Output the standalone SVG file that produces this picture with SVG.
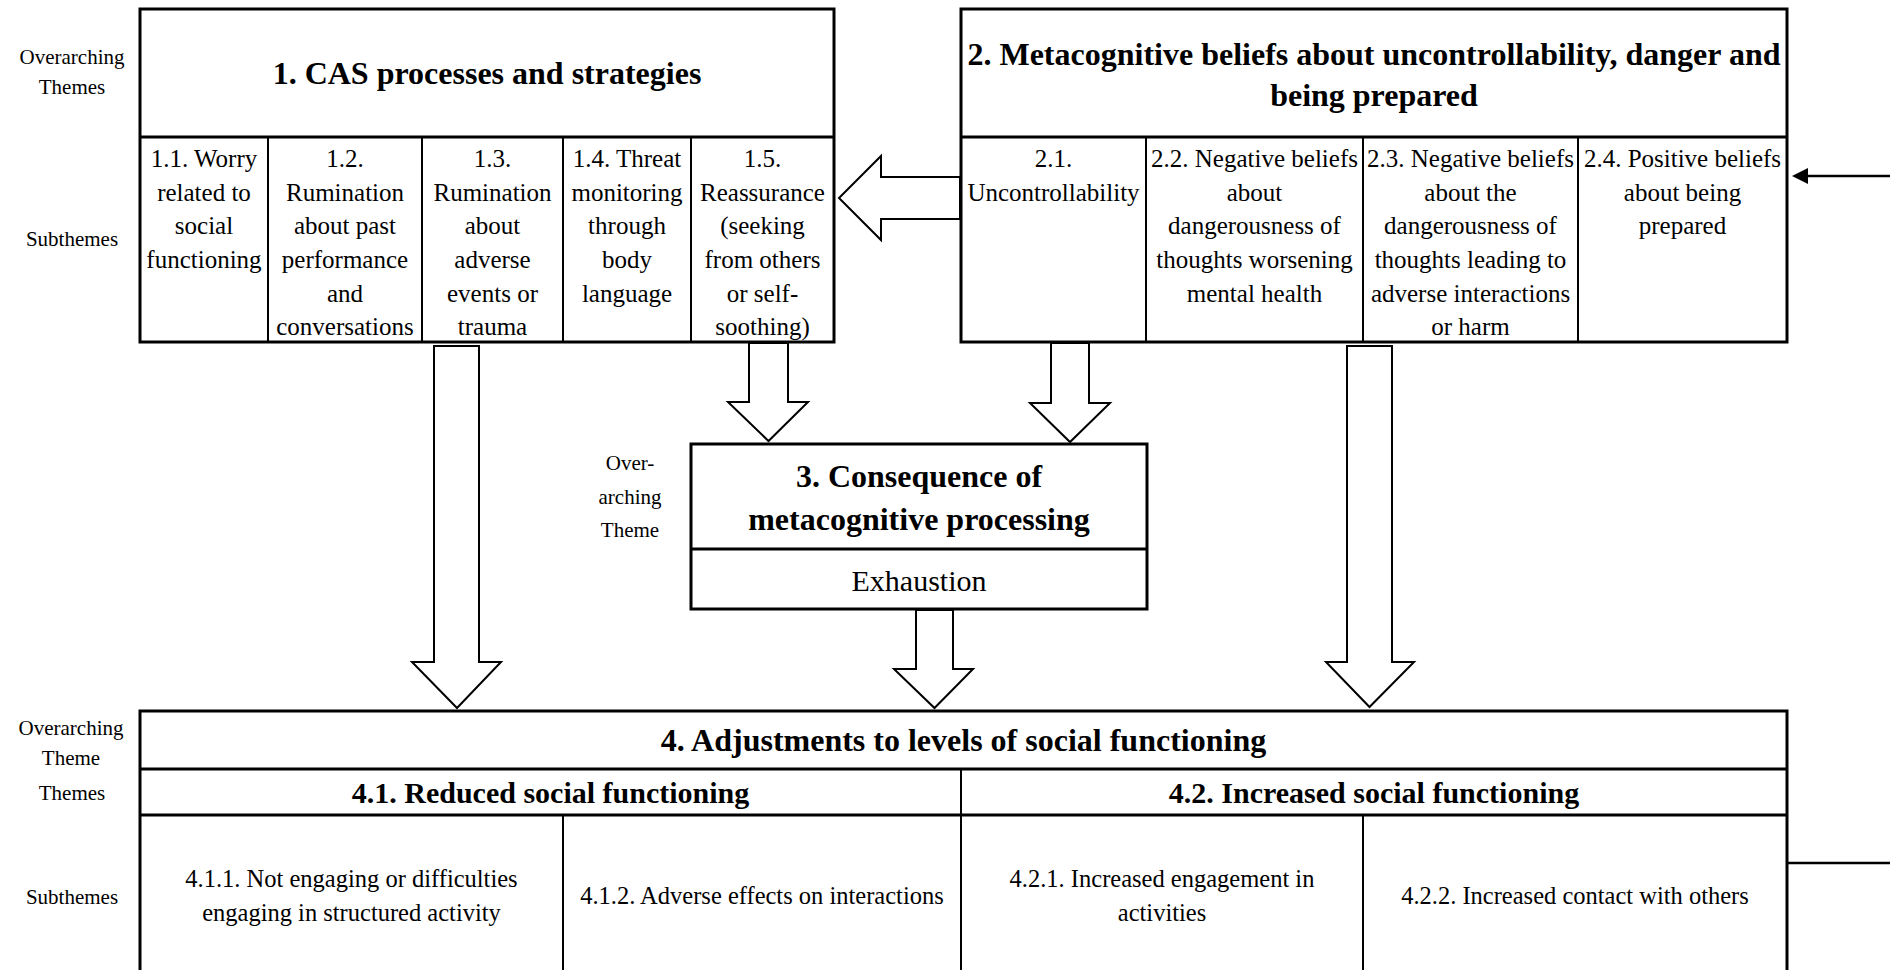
<svg xmlns="http://www.w3.org/2000/svg" width="1890" height="970" viewBox="0 0 1890 970">
  <defs>
    <style>
      .frame { fill: none; stroke: #000; stroke-width: 3; }
      .div { fill: none; stroke: #000; stroke-width: 2; }
      .block { fill: #fff; stroke: #000; stroke-width: 2; stroke-linejoin: miter; }
      .line { fill: none; stroke: #000; stroke-width: 2.5; }
      text { font-family: "Liberation Serif", "Times New Roman", serif; fill: #000; text-anchor: middle; }
      .h1 { font-size: 32px; font-weight: bold; }
      .h2 { font-size: 30px; font-weight: bold; }
      .sub { font-size: 25px; }
      .sub4 { font-size: 24.5px; }
      .ex { font-size: 30px; }
      .side { font-size: 21px; }
    </style>
  </defs>

  <rect x="0" y="0" width="1890" height="970" fill="#fff"/>

  <!-- row labels on the left -->
  <g id="row-labels">
    <text class="side" x="72" y="64">Overarching</text>
    <text class="side" x="72" y="94">Themes</text>
    <text class="side" x="72" y="246">Subthemes</text>
    <text class="side" x="630" y="470">Over-</text>
    <text class="side" x="630" y="504">arching</text>
    <text class="side" x="630" y="537">Theme</text>
    <text class="side" x="71" y="735">Overarching</text>
    <text class="side" x="71" y="765">Theme</text>
    <text class="side" x="72" y="800">Themes</text>
    <text class="side" x="72" y="904">Subthemes</text>
  </g>

  <!-- connectors: block arrows and the feedback line -->
  <g id="connectors">
    <!-- 2 -> 1 -->
    <polygon class="block" points="960,177 881,177 881,156 839,198 881,240 881,219 960,219"/>
    <!-- 1 -> 4 (long) -->
    <polygon class="block" points="434,346 479,346 479,662 501,662 457,708 412,662 434,662"/>
    <!-- 1.5 -> 3 -->
    <polygon class="block" points="749,343 788,343 788,402 808,402 768.5,441 728,402 749,402"/>
    <!-- 2.1 -> 3 -->
    <polygon class="block" points="1051,343 1089,343 1089,403 1110,403 1070,442 1030,403 1051,403"/>
    <!-- 3 -> 4 -->
    <polygon class="block" points="916,610 953,610 953,669 973,669 934.5,708 894,669 916,669"/>
    <!-- 2 -> 4 (long) -->
    <polygon class="block" points="1347,346 1392,346 1392,662 1414,662 1369.5,707 1326,662 1347,662"/>
    <!-- feedback loop from 4 back to 2 -->
    <line class="line" x1="1787" y1="863" x2="1890" y2="863"/>
    <line class="line" x1="1890" y1="176" x2="1807" y2="176"/>
    <polygon points="1792,176 1808,168 1808,184" fill="#000"/>
  </g>

  <!-- 1. CAS processes and strategies -->
  <g id="node-1">
    <rect class="frame" x="140" y="9" width="694" height="333"/>
    <line class="frame" x1="140" y1="137" x2="834" y2="137"/>
    <line class="div" x1="268" y1="137" x2="268" y2="342"/>
    <line class="div" x1="422" y1="137" x2="422" y2="342"/>
    <line class="div" x1="563" y1="137" x2="563" y2="342"/>
    <line class="div" x1="691" y1="137" x2="691" y2="342"/>
    <text class="h1" x="487" y="84">1. CAS processes and strategies</text>

    <text class="sub" x="204" y="167">1.1. Worry</text>
    <text class="sub" x="204" y="201">related to</text>
    <text class="sub" x="204" y="234">social</text>
    <text class="sub" x="204" y="268">functioning</text>

    <text class="sub" x="345" y="167">1.2.</text>
    <text class="sub" x="345" y="201">Rumination</text>
    <text class="sub" x="345" y="234">about past</text>
    <text class="sub" x="345" y="268">performance</text>
    <text class="sub" x="345" y="302">and</text>
    <text class="sub" x="345" y="335">conversations</text>

    <text class="sub" x="492.5" y="167">1.3.</text>
    <text class="sub" x="492.5" y="201">Rumination</text>
    <text class="sub" x="492.5" y="234">about</text>
    <text class="sub" x="492.5" y="268">adverse</text>
    <text class="sub" x="492.5" y="302">events or</text>
    <text class="sub" x="492.5" y="335">trauma</text>

    <text class="sub" x="627" y="167">1.4. Threat</text>
    <text class="sub" x="627" y="201">monitoring</text>
    <text class="sub" x="627" y="234">through</text>
    <text class="sub" x="627" y="268">body</text>
    <text class="sub" x="627" y="302">language</text>

    <text class="sub" x="762.5" y="167">1.5.</text>
    <text class="sub" x="762.5" y="201">Reassurance</text>
    <text class="sub" x="762.5" y="234">(seeking</text>
    <text class="sub" x="762.5" y="268">from others</text>
    <text class="sub" x="762.5" y="302">or self-</text>
    <text class="sub" x="762.5" y="335">soothing)</text>
  </g>

  <!-- 2. Metacognitive beliefs -->
  <g id="node-2">
    <rect class="frame" x="961" y="9" width="826" height="333"/>
    <line class="frame" x1="961" y1="137" x2="1787" y2="137"/>
    <line class="div" x1="1146" y1="137" x2="1146" y2="342"/>
    <line class="div" x1="1363" y1="137" x2="1363" y2="342"/>
    <line class="div" x1="1578" y1="137" x2="1578" y2="342"/>
    <text class="h1" x="1374" y="65">2. Metacognitive beliefs about uncontrollability, danger and</text>
    <text class="h1" x="1374" y="106">being prepared</text>

    <text class="sub" x="1053.5" y="167">2.1.</text>
    <text class="sub" x="1053.5" y="201">Uncontrollability</text>

    <text class="sub" x="1254.5" y="167">2.2. Negative beliefs</text>
    <text class="sub" x="1254.5" y="201">about</text>
    <text class="sub" x="1254.5" y="234">dangerousness of</text>
    <text class="sub" x="1254.5" y="268">thoughts worsening</text>
    <text class="sub" x="1254.5" y="302">mental health</text>

    <text class="sub" x="1470.5" y="167">2.3. Negative beliefs</text>
    <text class="sub" x="1470.5" y="201">about the</text>
    <text class="sub" x="1470.5" y="234">dangerousness of</text>
    <text class="sub" x="1470.5" y="268">thoughts leading to</text>
    <text class="sub" x="1470.5" y="302">adverse interactions</text>
    <text class="sub" x="1470.5" y="335">or harm</text>

    <text class="sub" x="1682.5" y="167">2.4. Positive beliefs</text>
    <text class="sub" x="1682.5" y="201">about being</text>
    <text class="sub" x="1682.5" y="234">prepared</text>
  </g>

  <!-- 3. Consequence of metacognitive processing -->
  <g id="node-3">
    <rect class="frame" x="691" y="444" width="456" height="165"/>
    <line class="frame" x1="691" y1="549" x2="1147" y2="549"/>
    <text class="h1" x="919" y="487">3. Consequence of</text>
    <text class="h1" x="919" y="530">metacognitive processing</text>
    <text class="ex" x="919" y="591">Exhaustion</text>
  </g>

  <!-- 4. Adjustments to levels of social functioning -->
  <g id="node-4">
    <rect class="frame" x="140" y="711" width="1647" height="290"/>
    <line class="frame" x1="140" y1="769" x2="1787" y2="769"/>
    <line class="frame" x1="140" y1="815" x2="1787" y2="815"/>
    <line class="div" x1="961" y1="769" x2="961" y2="975"/>
    <line class="div" x1="563" y1="815" x2="563" y2="975"/>
    <line class="div" x1="1363" y1="815" x2="1363" y2="975"/>
    <text class="h1" x="963.5" y="751">4. Adjustments to levels of social functioning</text>
    <text class="h2" x="550.5" y="803">4.1. Reduced social functioning</text>
    <text class="h2" x="1374" y="803">4.2. Increased social functioning</text>

    <text class="sub4" x="351.5" y="887">4.1.1. Not engaging or difficulties</text>
    <text class="sub4" x="351.5" y="921">engaging in structured activity</text>
    <text class="sub4" x="762" y="904">4.1.2. Adverse effects on interactions</text>
    <text class="sub4" x="1162" y="887">4.2.1. Increased engagement in</text>
    <text class="sub4" x="1162" y="921">activities</text>
    <text class="sub4" x="1575" y="904">4.2.2. Increased contact with others</text>
  </g>
</svg>
